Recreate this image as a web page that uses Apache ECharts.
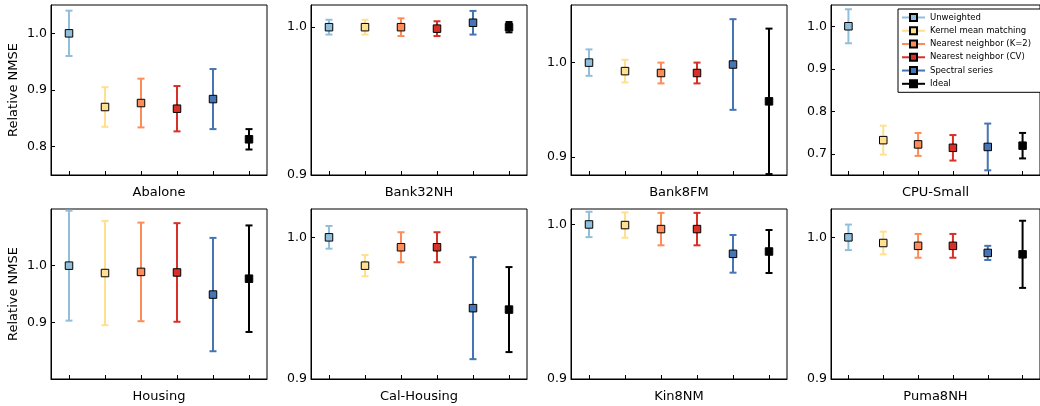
<!DOCTYPE html>
<html>
<head>
<meta charset="utf-8">
<script src="https://cdn.jsdelivr.net/npm/echarts/dist/echarts.min.js"></script>
<style>
  html, body { margin: 0; padding: 0; background: #fff; }
  #chart { width: 1040px; height: 406px; }
</style>
</head>
<body>
<div id="chart"></div>
<script>
// methods, one marker + error bar each per panel
var methods = ['Unweighted', 'Kernel mean matching', 'Nearest neighbor (K=2)', 'Nearest neighbor (CV)', 'Spectral series', 'Ideal']
var methodColors = ['#91bfdb', '#fee090', '#fc8d59', '#d73027', '#4575b4', '#000000']

var datasets = ['Abalone', 'Bank32NH', 'Bank8FM', 'CPU-Small', 'Housing', 'Cal-Housing', 'Kin8NM', 'Puma8NH']

// relative NMSE, mean and error per method
var abaloneMean = [1.000, 0.870, 0.877, 0.867, 0.884, 0.813]
var abaloneErr = [0.040, 0.035, 0.043, 0.040, 0.053, 0.018]
var bank32Mean = [1.000, 1.000, 1.000, 0.999, 1.003, 1.000]
var bank32Err = [0.005, 0.005, 0.006, 0.005, 0.008, 0.0035]
var bank8Mean = [1.000, 0.991, 0.989, 0.989, 0.998, 0.959]
var bank8Err = [0.014, 0.012, 0.011, 0.011, 0.048, 0.077]
var cpuMean = [1.000, 0.732, 0.722, 0.714, 0.716, 0.719]
var cpuErr = [0.040, 0.034, 0.027, 0.030, 0.055, 0.030]
var housingMean = [1.000, 0.987, 0.989, 0.988, 0.949, 0.977]
var housingErr = [0.097, 0.092, 0.087, 0.087, 0.100, 0.094]
var calMean = [1.000, 0.980, 0.993, 0.993, 0.950, 0.949]
var calErr = [0.008, 0.0075, 0.0106, 0.0106, 0.036, 0.030]
var kinMean = [1.000, 0.9996, 0.997, 0.997, 0.981, 0.9825]
var kinErr = [0.0082, 0.0082, 0.0105, 0.0105, 0.0122, 0.0139]
var pumaMean = [1.000, 0.996, 0.994, 0.994, 0.989, 0.988]
var pumaErr = [0.009, 0.008, 0.0084, 0.0084, 0.005, 0.0237]

var means = [abaloneMean, bank32Mean, bank8Mean, cpuMean, housingMean, calMean, kinMean, pumaMean]
var errs = [abaloneErr, bank32Err, bank8Err, cpuErr, housingErr, calErr, kinErr, pumaErr]

// y tick labels per panel
var yTicks = [
  [0.8, 0.9, 1.0],
  [0.9, 1.0],
  [0.9, 1.0],
  [0.7, 0.8, 0.9, 1.0],
  [0.9, 1.0],
  [0.9, 1.0],
  [0.9, 1.0],
  [0.9, 1.0]
]
// axis limits per panel
var yMin = [0.75, 0.9, 0.881, 0.65, 0.8, 0.9, 0.9, 0.9]
var yMax = [1.05, 1.015, 1.061, 1.05, 1.1, 1.02, 1.01, 1.02]

var font = 'DejaVu Sans'

function renderErrorBar(params, api) {
  var i = api.value(0)
  var mean = api.value(1)
  var err = api.value(2)
  var hi = api.coord([i, mean + err])
  var lo = api.coord([i, mean - err])
  var half = 3.5
  var style = { stroke: methodColors[i], lineWidth: 2 }
  return {
    type: 'group',
    children: [
      { type: 'line', shape: { x1: hi[0], y1: hi[1], x2: lo[0], y2: lo[1] }, style: style },
      { type: 'line', shape: { x1: hi[0] - half, y1: hi[1], x2: hi[0] + half, y2: hi[1] }, style: style },
      { type: 'line', shape: { x1: lo[0] - half, y1: lo[1], x2: lo[0] + half, y2: lo[1] }, style: style }
    ]
  }
}

var grids = []
var xAxes = []
var yAxes = []
var series = []

datasets.forEach(function (name, p) {
  var col = p % 4
  var row = Math.floor(p / 4)
  grids.push({
    left: 51 + 260 * col,
    top: 5 + 204 * row,
    width: 216,
    height: 170,
    show: true,
    borderColor: '#000',
    borderWidth: 1
  })
  xAxes.push({
    gridIndex: p,
    type: 'category',
    data: methods,
    boundaryGap: true,
    axisLine: { show: true, lineStyle: { color: '#000', width: 1 } },
    axisLabel: { show: false },
    axisTick: { show: true, interval: 0, alignWithLabel: true, inside: true, length: 4, lineStyle: { color: '#000', width: 1 } },
    splitLine: { show: false },
    name: name,
    nameLocation: 'middle',
    nameGap: 11,
    nameTextStyle: { fontFamily: font, fontSize: 13, color: '#000' }
  })
  yAxes.push({
    gridIndex: p,
    type: 'value',
    min: yMin[p],
    max: yMax[p],
    axisLine: { show: true, lineStyle: { color: '#000', width: 1 } },
    splitLine: { show: false },
    axisTick: { show: true, inside: true, length: 4, customValues: yTicks[p], lineStyle: { color: '#000', width: 1 } },
    axisLabel: {
      customValues: yTicks[p],
      formatter: function (v) { return v.toFixed(1) },
      fontFamily: font,
      fontSize: 12.5,
      color: '#000',
      margin: 4
    },
    name: col === 0 ? 'Relative NMSE' : '',
    nameLocation: 'middle',
    nameGap: 31,
    nameTextStyle: { fontFamily: font, fontSize: 13, color: '#000' }
  })

  // error bars
  series.push({
    type: 'custom',
    xAxisIndex: p,
    yAxisIndex: p,
    renderItem: renderErrorBar,
    encode: { x: 0, y: 1 },
    z: 2,
    silent: true,
    data: methods.map(function (m, i) { return [i, means[p][i], errs[p][i]] })
  })

  // square markers, one series per method so the legend can pick them up
  methods.forEach(function (m, i) {
    series.push({
      name: m,
      type: 'line',
      xAxisIndex: p,
      yAxisIndex: p,
      symbol: 'rect',
      symbolSize: 7.5,
      z: 3,
      silent: true,
      itemStyle: { color: methodColors[i], borderColor: '#000', borderWidth: 1 },
      lineStyle: { color: methodColors[i], width: 2 },
      data: [[i, means[p][i]]]
    })
  })
})

var chart = echarts.init(document.getElementById('chart'))
chart.setOption({
  animation: false,
  textStyle: { fontFamily: font },
  grid: grids,
  xAxis: xAxes,
  yAxis: yAxes,
  legend: {
    data: methods,
    orient: 'vertical',
    left: 898,
    top: 9,
    itemWidth: 23,
    itemHeight: 8.75,
    itemGap: 2.26,
    padding: [3, 30, 3, 3],
    borderColor: '#000',
    borderWidth: 1,
    borderRadius: 0,
    backgroundColor: '#fff',
    selectedMode: false,
    textStyle: { fontFamily: font, fontSize: 8.5, lineHeight: 11, color: '#000' }
  },
  series: series
})
</script>
</body>
</html>
